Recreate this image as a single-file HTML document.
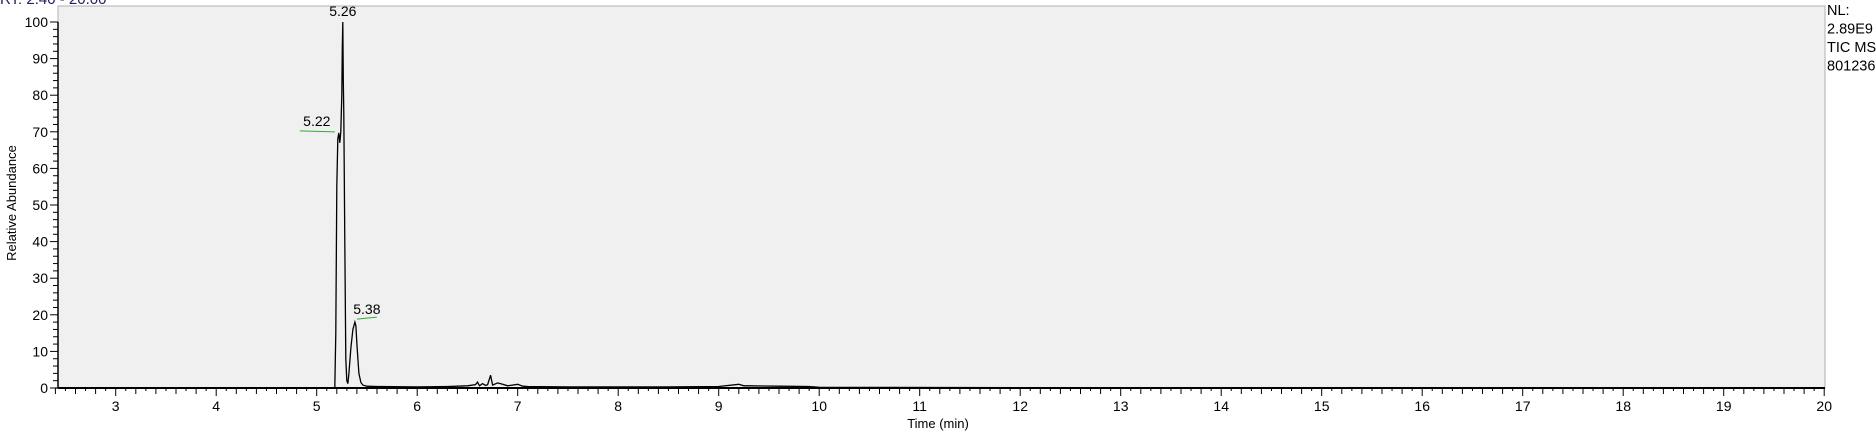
<!DOCTYPE html>
<html><head><meta charset="utf-8"><style>
body{margin:0;background:#fff;width:1876px;height:435px;overflow:hidden;font-family:"Liberation Sans",sans-serif}
svg text{font-family:"Liberation Sans",sans-serif}
</style></head><body>
<svg id="c" width="1876" height="435"></svg>
<script>
const times=[2.40,5.00,5.18,5.19,5.20,5.21,5.22,5.23,5.24,5.25,5.255,5.26,5.265,5.27,5.28,5.29,5.30,5.31,5.32,5.34,5.36,5.38,5.39,5.40,5.42,5.44,5.46,5.50,5.60,6.00,6.30,6.40,6.50,6.58,6.60,6.62,6.65,6.68,6.70,6.73,6.75,6.80,6.85,6.90,7.00,7.05,7.10,7.50,8.50,9.00,9.20,9.25,9.30,9.60,9.90,10.00,12.0,16.0,20.0];
const abund=[0.0,0.0,0.0,15,55,68,69.7,67,70,80,93,100,84,75,40,8,2,1.2,4,11,16,18,17,12,4,1.5,0.8,0.5,0.4,0.3,0.4,0.5,0.6,0.9,1.6,0.6,1.2,0.7,0.9,3.5,0.8,1.4,1.0,0.6,1.0,0.5,0.4,0.3,0.3,0.4,1.0,0.6,0.6,0.5,0.4,0.2,0.1,0.1,0.1];
const peakLabels=["5.26","5.22","5.38"];
const peakTimes=[5.26,5.22,5.38];
const peakVals=[100,69.7,18];
const yTicks=[0,10,20,30,40,50,60,70,80,90,100];
const xTicks=[3,4,5,6,7,8,9,10,11,12,13,14,15,16,17,18,19,20];
const NS="http://www.w3.org/2000/svg",svg=document.getElementById('c');
const X0=58,X1=1825,Y0=6,YB=388;
const xs=t=>316.7+(t-5)*100.5, ys=v=>388-v*3.66;
function el(n,a,p){const e=document.createElementNS(NS,n);for(const k in a)e.setAttribute(k,a[k]);(p||svg).appendChild(e);return e;}
const bg=el('rect',{x:X0,y:Y0,width:X1-X0,height:YB-Y0,fill:'#f0f0f0',stroke:'#b0b0b0','stroke-width':1});


const ya=el('line',{x1:X0,y1:ys(100),x2:X0,y2:YB,stroke:'#000','stroke-width':1.5});


for(let v=0;v<=100;v+=2){el('line',{x1:X0-(v%10==0?8:5),y1:ys(v),x2:X0,y2:ys(v),stroke:'#000'});}
yTicks.forEach(v=>{const t=el('text',{x:X0-10,y:ys(v)+5,'text-anchor':'end','font-size':14,fill:'#000'});t.textContent=v;

});
const xa=el('line',{x1:X0,y1:YB,x2:X1,y2:YB,stroke:'#000','stroke-width':2});


for(let i=24;i<=200;i++){const t=i/10;const big=i%10==0,med=i%2==0;el('line',{x1:xs(t),y1:YB,x2:xs(t),y2:YB+(big?8:med?6:3),stroke:'#000'});}
xTicks.forEach(v=>{const t=el('text',{x:xs(v),y:YB+23,'text-anchor':'middle','font-size':14,fill:'#000'});t.textContent=v;

});
const pts=times.map((t,i)=>xs(t).toFixed(1)+','+ys(abund[i]).toFixed(1)).join(' ');
const ln=el('polyline',{points:pts,fill:'none',stroke:'#000','stroke-width':1.3});


const offs=[[0,-6],[-22,-7],[12,-8]];
peakLabels.forEach((l,i)=>{const x=xs(peakTimes[i])+offs[i][0],y=ys(peakVals[i])+offs[i][1];
const t=el('text',{x:x,y:y,'text-anchor':'middle','font-size':14,fill:'#000'});t.textContent=l;


if(i>0)el('line',{x1:x-(i==1?17:10),y1:y+5,x2:x+(i==1?18:10),y2:y+(i==1?6:3),stroke:'#3a3','stroke-width':1});});
const xt=el('text',{x:938,y:428,'text-anchor':'middle','font-size':13});xt.textContent='Time (min)';


const yt=el('text',{x:0,y:0,'text-anchor':'middle','font-size':13,transform:'translate(16,203) rotate(-90)'});yt.textContent='Relative Abundance';


const rt=el('text',{x:0,y:4,'font-size':15,fill:'#202060'});rt.textContent='RT: 2.40 - 20.00';


['NL:','2.89E9','TIC  MS','801236-'].forEach((s,i)=>{const t=el('text',{x:1827,y:15+i*18.5,'font-size':14.5,fill:'#000'});t.textContent=s;

});
</script>
</body></html>
